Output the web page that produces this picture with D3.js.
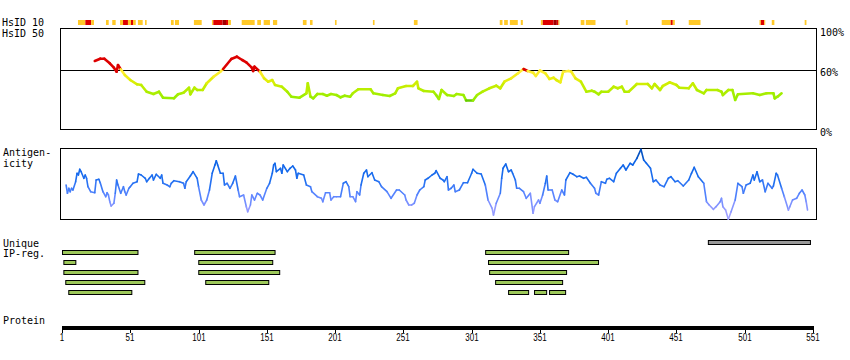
<!DOCTYPE html>
<html><head><meta charset="utf-8">
<script src="https://cdn.jsdelivr.net/npm/d3@7"></script>
<style>body{margin:0;background:#fff}svg{display:block}</style>
</head><body><svg id="c" width="850" height="360"></svg>
<script>
// ---------- DATA ----------
const proteinLength = 551;
const proteinTicks = [1, 51, 101, 151, 201, 251, 301, 351, 401, 451, 501, 551];
const percentTicks = [0, 60, 100];

// HsID 10 blocks: [start residue, end residue, level] level 1=gold, 2=red, 3=dark red
const hsid10Blocks = [
  [12.7,18.1,1],[18.1,22.4,2],[22.4,24.4,1],
  [33.2,35.2,1],[37.8,40.3,1],
  [43.5,45.7,1],[45.7,49.3,2],[49.3,51.5,1],[51.5,53,2],[53,55,1],
  [56.6,60.1,1],[61.8,63,1],
  [80.8,82.8,1],[83.7,86.7,1],
  [97.6,103.3,1],
  [110.8,111.8,1],[111.8,118.6,2],[118.6,121.1,3],[121.1,122.7,2],[122.7,124.7,1],
  [132.6,142.1,1],[144,146.7,1],[148.7,153.3,1],[155.5,158.6,1],
  [177.4,180.1,1],[182.6,184.5,1],[200.9,202.1,1],[228.7,229.9,1],[258.7,261.4,1],
  [321.6,323.6,1],[324.8,327.5,1],[329,334.8,1],[337,338.5,1],
  [351.7,353.1,1],[353.1,361,2],[361,363.4,3],[363.4,364.6,2],[364.6,365.3,1],
  [380.9,383.6,1],[384.6,391.7,1],[413.9,415.3,1],
  [440.2,446.8,1],[446.8,448.3,2],[448.3,449.8,1],
  [460,468.6,1],
  [511.8,512.8,1],[512.8,515.3,2],[515.3,516,1],
  [520.8,522.7,1],[544.9,546.2,1]
];

// HsID 50 identity (%) along the protein
const hsid50Res = [25,29,32,36,39,41,42,44,47,51,56,59,63,68,72,75,83,86,90,94,95,98,100,104,107,112,117,119,125,129,133,136,140,141,142,146,149,152,155,157,162,166,169,175,180,181,183,185,188,192,195,198,202,205,208,212,214,218,227,229,236,241,245,247,253,258,261,262,266,273,275,277,279,283,288,290,295,297,302,305,309,314,319,322,325,330,335,339,342,346,348,351,355,358,361,363,366,368,372,374,377,381,385,389,391,394,396,401,405,408,411,413,416,422,430,433,435,439,441,446,451,453,460,463,466,471,473,481,484,485,489,492,494,496,507,512,517,522,523,525,528];
const hsid50Val = [69,71.3,71.3,66.7,62.3,58.3,65,60.7,55,50,45.7,45,38.3,36,38.3,32.3,31.7,35.7,37.3,42.3,35.7,42.3,40,40,46.7,53.3,58.3,61,71,73.3,70,67.7,62.3,59,63.3,58.3,51.7,48.3,50,45,43.3,38.3,33.3,32.3,36.7,46.7,33.3,31.7,36,36,34.3,36,35,32.7,34.3,33.3,36.7,40.7,40.7,36.7,35,34,36.7,41.7,44,44,48.3,41.7,39,38.3,35,31,40,35,34,36,35,29.5,29.5,35,38.3,41.7,44.3,41.7,48.3,51.7,56.7,61,59,57.3,54,59.5,56.7,51,52.3,50,47.7,58.3,59,58.3,51.7,48.3,38.3,39.3,38.3,35.7,38.3,38.3,43.3,41.7,43.3,38.3,38.3,46,46,41.7,46,40,44,47.7,45,42.3,41.7,46.7,40,36.7,40,40,38.3,35,40,40,30,35.7,36.7,35,36.7,36.7,31.7,33.3,36.7];

// Antigenicity score along the protein
const antiRes = [4,5,6,7,8,9,11,12,13,14,15,17,18,19,20,22,25,26,28,29,31,33,34,35,36,37,39,40,41,42,44,46,47,48,50,51,53,56,57,59,62,63,65,67,68,70,73,74,75,78,80,81,83,87,90,91,92,95,97,100,101,103,105,107,109,111,113,114,115,117,119,120,122,124,126,128,130,131,134,136,137,139,140,142,144,146,148,151,153,155,156,157,158,161,162,163,166,168,170,172,173,174,178,180,183,184,188,191,192,194,197,198,200,202,205,207,209,211,212,214,216,217,219,220,222,224,225,228,230,233,235,239,242,246,248,252,253,255,257,259,261,263,266,267,269,272,274,275,278,280,281,283,284,286,288,289,292,295,298,301,302,305,308,311,313,316,317,319,322,323,324,326,328,330,331,333,334,336,339,341,344,346,347,350,351,353,355,356,357,360,362,364,367,369,370,373,375,378,380,383,385,388,391,392,394,396,399,400,402,405,407,410,412,414,417,419,422,425,427,429,432,434,436,439,442,445,447,450,452,456,460,462,464,467,471,473,475,478,480,483,484,485,487,489,491,494,496,499,500,502,505,507,508,510,512,514,516,518,521,522,524,525,528,530,533,534,536,539,541,543,545,546,547];
const antiVal = [35,26.7,31.7,28.3,31.7,30,38.3,46.7,45,50.7,48.3,41.7,45,41.7,33.3,28.3,27.3,40,40.7,37.3,28.3,23.3,27.3,25,18.3,14,16.7,26.7,40,35,26.7,33.3,28.3,25,31.7,33.3,36.7,38.3,46,45,41.7,38.3,41.7,45,40,45.7,41.7,45,36.7,35,33.3,36.7,39.3,38.3,36.7,31.7,38.3,44,48.3,41.7,33.3,20,15,20,30,46.7,55,59.3,55,46.7,46.7,35,36.7,31.7,36.7,44,30,23.3,25,13.3,8.3,15,25,20,26.7,25,20,31.7,36.7,46.7,55,56.7,48.3,51.7,46.7,55,48.3,51.7,54,50,41.7,46.7,45,35,33.3,28.3,23.3,21.7,18.3,27.3,27.3,20,23.3,23.3,23.3,36.7,38.3,33.3,23.3,23.3,18.3,28.3,25,35,46.7,50,43.3,47.3,40,38.3,33.3,28.3,21.7,30,30,25,20,15,15,16.7,25,30,33.3,40,41.7,45,46.7,49.3,41.7,40,38.3,43.3,30,31.7,35,28.3,30,37.3,37.3,46.7,50.7,46.7,46,35,20,11.7,5,16.7,26.7,41.7,51.7,56,48.3,50,46.7,40,31.7,31.7,28.3,21.7,26.7,6.7,13.3,20,16.7,25,36.7,44,30,30,20,18.3,30,25,40,47.3,46,43.3,44,41.7,42.7,36.7,31.7,26.7,25,38.3,36.7,40.7,41.7,38.3,46.7,51.7,55,50,56.7,55,61.7,70.7,60,56.7,51.7,38.3,40,35,33.3,41.7,43.3,38.3,39.3,34,40,46.7,52.7,43.3,36.7,18.3,15,10.7,13.3,18.3,21.7,13.3,10,0.7,8.3,20,36.7,33.3,26.7,35,36.7,45,40,48.3,38.3,40,28.3,36.7,31.7,34,46.7,45,31.7,23.3,10,13.3,20,21.7,26.7,30,25,18.3,10];

// Unique IP-regions: [start, end, row]
const ipRegions = [
  [1,57,1],[2,11.5,2],[2,57,3],[3.4,62,4],[5.6,52.5,5],
  [97.8,157.4,1],[100.8,155.7,2],[100.8,160.8,3],[105.9,152.8,4],
  [310.9,372.4,1],[313,394.3,2],[313.8,370.9,3],[318.2,368,4],
  [327.7,343.1,5],[346.7,356.3,5],[357.7,370.2,5]
];
const otherRegions = [[474,549.5,0]];

// ---------- DRAW ----------
const svg = d3.select("#c");
const mono = "'DejaVu Sans Mono', monospace";
const x = d3.scaleLinear().domain([1, proteinLength]).range([62, 813]);

function label(lines, x0, y0, dy) {
  lines.forEach((t, i) => svg.append("text").attr("x", x0).attr("y", y0 + i * dy)
    .attr("font-family", mono).attr("font-size", 10).attr("fill", "#000").text(t));
}

// HsID 10 row
const hsColors = {1: "#ffc928", 2: "#dd0000", 3: "#a00000"};
svg.append("g").selectAll("rect").data(hsid10Blocks).join("rect")
  .attr("x", d => x(d[0])).attr("width", d => Math.max(1, x(d[1]) - x(d[0])))
  .attr("y", 20).attr("height", 5).attr("fill", d => hsColors[d[2]]);
label(["HsID 10"], 2, 26, 0);
label(["HsID 50"], 2, 37, 0);

// HsID 50 panel
const yHs = d3.scaleLinear().domain([0, 100]).range([130, 30]);
svg.append("rect").attr("x", 60.5).attr("y", 28.5).attr("width", 756).attr("height", 101)
  .attr("fill", "none").attr("stroke", "#000").attr("stroke-width", 1);
svg.append("line").attr("x1", 60.5).attr("x2", 816.5).attr("y1", Math.round(yHs(60)) + 0.5).attr("y2", Math.round(yHs(60)) + 0.5)
  .attr("stroke", "#000").attr("stroke-width", 1);
const hsGreen = d3.scaleLinear().domain([33, 45, 52, 58]).range(["#99ee00", "#ccee00", "#eeee11", "#ffee33"]).clamp(true);
function hsColor(v) { return v >= 60 ? "#dd0000" : v < 30 ? "#66cc00" : hsGreen(v); }
const hsPts = hsid50Res.map((r, i) => [r, hsid50Val[i]]);
svg.append("g").selectAll("line").data(d3.pairs(hsPts)).join("line")
  .attr("x1", d => x(d[0][0])).attr("y1", d => yHs(d[0][1]))
  .attr("x2", d => x(d[1][0])).attr("y2", d => yHs(d[1][1]))
  .attr("stroke", d => hsColor((d[0][1] + d[1][1]) / 2))
  .attr("stroke-width", 2.6).attr("stroke-linecap", "round");
percentTicks.forEach(p => svg.append("text").attr("x", 820).attr("y", yHs(p) + 6)
  .attr("font-family", mono).attr("font-size", 10).text(p + "%"));

// Antigenicity panel
const yAn = d3.scaleLinear().domain([0, 72]).range([220, 148]);
svg.append("rect").attr("x", 60.5).attr("y", 148.5).attr("width", 756).attr("height", 71)
  .attr("fill", "none").attr("stroke", "#000").attr("stroke-width", 1);
const anColor = d3.scaleLinear().domain([0, 12, 25, 40, 60, 72])
  .range(["#aaa6ff", "#8f98ff", "#5a85ff", "#1f6ff0", "#0a62e6", "#0044a0"]);
const anPts = antiRes.map((r, i) => [r, antiVal[i]]);
svg.append("g").selectAll("line").data(d3.pairs(anPts)).join("line")
  .attr("x1", d => x(d[0][0])).attr("y1", d => yAn(d[0][1]))
  .attr("x2", d => x(d[1][0])).attr("y2", d => yAn(d[1][1]))
  .attr("stroke", d => anColor((d[0][1] + d[1][1]) / 2))
  .attr("stroke-width", 1.6).attr("stroke-linecap", "round");
label(["Antigen-", "icity"], 3, 156, 10.5);

// Unique IP regions
const rowY = r => 240 + r * 10;
label(["Unique", "IP-reg."], 3, 247, 10);
svg.append("g").selectAll("rect").data(ipRegions.concat(otherRegions)).join("rect")
  .attr("x", d => x(d[0]) + 0.5).attr("width", d => x(d[1]) - x(d[0]) - 1)
  .attr("y", d => rowY(d[2]) + 0.5).attr("height", 4)
  .attr("fill", d => d[2] === 0 ? "#999999" : "#9dc85a")
  .attr("stroke", "#000").attr("stroke-width", 1);

// Protein axis
label(["Protein"], 3, 324, 0);
svg.append("rect").attr("x", x(1)).attr("width", x(proteinLength) - x(1) + 1)
  .attr("y", 326).attr("height", 4).attr("fill", "#000");
const tk = svg.append("g").selectAll("g").data(proteinTicks).join("g")
  .attr("transform", d => `translate(${Math.round(x(d))},0)`);
tk.append("line").attr("x1", 0.5).attr("x2", 0.5).attr("y1", 330).attr("y2", 333).attr("stroke", "#000");
tk.append("text").attr("transform", "translate(0,341) scale(0.8,1)")
  .attr("text-anchor", "middle").attr("font-family", "'Liberation Sans', Arial, sans-serif")
  .attr("font-size", 10).text(d => d);
</script></body></html>
